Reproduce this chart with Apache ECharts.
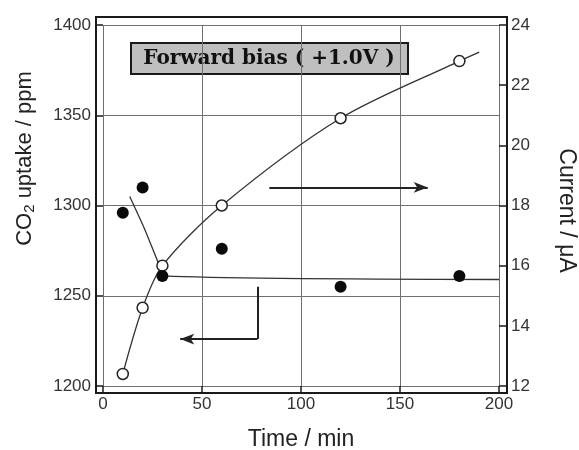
<!DOCTYPE html>
<html>
<head>
<meta charset="utf-8">
<script src="https://cdn.jsdelivr.net/npm/echarts@6/dist/echarts.min.js"></script>
<style>
  html, body { margin: 0; padding: 0; background: #fff; }
  #chart { width: 579px; height: 450px; }
</style>
</head>
<body>
<div id="chart"></div>
<script>
// measured points (time in min)
var uptakeTime = [10, 20, 30, 60, 120, 180]
var uptakeValues = [1296, 1310, 1261, 1276, 1255, 1261]
var currentTime = [10, 20, 30, 60, 120, 180]
var currentValues = [12.4, 14.6, 16.0, 18.0, 20.9, 22.8]

// hand drawn guide lines
var uptakeFitTime = [13.5, 21, 28, 31, 200]
var uptakeFitValues = [1305, 1287, 1268, 1261, 1259]
var currentFitTime = [10, 20, 30, 60, 120, 180, 190]
var currentFitValues = [12.4, 14.6, 16.0, 18.0, 20.9, 22.8, 23.1]

// arrows: [x, y] in data units of the left axis
var rightArrow = [[84, 1310], [164, 1310]]
var leftArrowStem = [[78, 1255], [78, 1226]]
var leftArrow = [[78, 1226], [39, 1226]]

var xTicks = [0, 50, 100, 150, 200]
var titleText = 'Forward bias ( +1.0V )'

function pairs(xs, ys) {
  return xs.map(function (x, i) { return [x, ys[i]] })
}

var ink = '#1a1a1a'
var sans = 'Liberation Sans, Arial, sans-serif'
var plain = function (v) { return String(v) }

var chart = echarts.init(document.getElementById('chart'))

chart.setOption({
  animation: false,
  backgroundColor: '#fff',
  grid: [
    { left: 103, right: 80, top: 25, bottom: 64, outerBoundsMode: 'none', containLabel: false },
    { left: 96, right: 72, top: 17, bottom: 57, outerBoundsMode: 'none', containLabel: false, show: true, borderColor: ink, borderWidth: 2, backgroundColor: 'transparent', z: 5 }
  ],
  graphic: [{
    type: 'group',
    left: 130,
    top: 42,
    z: 100,
    children: [
      { type: 'rect', shape: { x: 0, y: 0, width: 277, height: 31 }, style: { fill: '#bfbfbf', stroke: ink, lineWidth: 2 } },
      { type: 'text', x: 138, y: 16, style: { text: titleText, align: 'center', verticalAlign: 'middle', fill: '#111', font: 'bold 20px "DejaVu Serif", serif' } }
    ]
  }],
  xAxis: [{
    type: 'value',
    min: 0,
    max: xTicks[xTicks.length - 1],
    interval: 50,
    name: 'Time / min',
    nameLocation: 'middle',
    nameGap: 42,
    nameTextStyle: { fontFamily: sans, fontSize: 23, color: '#222' },
    axisLine: { show: false },
    axisTick: { show: true, inside: false, length: 7, lineStyle: { color: ink, width: 1.5 } },
    axisLabel: { margin: 10, fontFamily: sans, fontSize: 17, color: '#333', formatter: plain },
    splitLine: { show: true, lineStyle: { color: '#707070', width: 1 } }
  }, {
    type: 'value', gridIndex: 1, min: 0, max: 1, show: false
  }],
  yAxis: [{
    type: 'value',
    min: 1200,
    max: 1400,
    interval: 50,
    position: 'left',
    name: '{a|CO}{s|2}{a| uptake / ppm}',
    nameLocation: 'middle',
    nameGap: 66,
    nameTextStyle: {
      padding: [0, 0, 0, 94],
      rich: {
        a: { fontFamily: sans, fontSize: 22, color: '#222' },
        s: { fontFamily: sans, fontSize: 15, color: '#222', padding: [10, 0, 0, 0] }
      }
    },
    axisLine: { show: false },
    axisTick: { show: true, inside: false, length: 7, lineStyle: { color: ink, width: 1.5 } },
    axisLabel: { margin: 12, fontFamily: sans, fontSize: 17, color: '#333', formatter: plain },
    splitLine: { show: true, lineStyle: { color: '#707070', width: 1 } }
  }, {
    type: 'value',
    min: 12,
    max: 24,
    interval: 2,
    position: 'right',
    name: 'Current / \u03bcA',
    nameLocation: 'middle',
    nameRotate: -90,
    nameGap: 56,
    nameTextStyle: { fontFamily: sans, fontSize: 23, color: '#222', padding: [0, 0, 0, 10] },
    axisLine: { show: false },
    axisTick: { show: true, inside: false, length: 8, lineStyle: { color: ink, width: 1.5 } },
    axisLabel: { margin: 12, fontFamily: sans, fontSize: 17, color: '#333', formatter: plain },
    splitLine: { show: false }
  }, {
    type: 'value', gridIndex: 1, min: 0, max: 1, show: false
  }],
  series: [
    {
      name: 'uptake fit',
      type: 'line',
      xAxisIndex: 0,
      yAxisIndex: 0,
      data: pairs(uptakeFitTime, uptakeFitValues),
      smooth: 0.2,
      showSymbol: false,
      lineStyle: { color: '#333', width: 1.3 },
      z: 3,
      markLine: {
        silent: true,
        symbol: ['none', 'arrow'],
        symbolSize: [8, 14],
        label: { show: false },
        lineStyle: { type: 'solid', color: '#222', width: 2 },
        data: [
          [{ coord: rightArrow[0] }, { coord: rightArrow[1] }],
          [{ coord: leftArrowStem[0], symbol: 'none' }, { coord: leftArrowStem[1], symbol: 'none' }],
          [{ coord: leftArrow[0] }, { coord: leftArrow[1] }]
        ]
      }
    },
    {
      name: 'current fit',
      type: 'line',
      xAxisIndex: 0,
      yAxisIndex: 1,
      data: pairs(currentFitTime, currentFitValues),
      smooth: 0.3,
      showSymbol: false,
      lineStyle: { color: '#333', width: 1.3 },
      z: 3
    },
    {
      name: 'CO2 uptake',
      type: 'scatter',
      xAxisIndex: 0,
      yAxisIndex: 0,
      data: pairs(uptakeTime, uptakeValues),
      symbol: 'circle',
      symbolSize: 12,
      itemStyle: { color: '#0a0a0a', opacity: 1 },
      z: 6
    },
    {
      name: 'Current',
      type: 'scatter',
      xAxisIndex: 0,
      yAxisIndex: 1,
      data: pairs(currentTime, currentValues),
      symbol: 'circle',
      symbolSize: 11,
      itemStyle: { color: '#fff', borderColor: '#222', borderWidth: 1.5, opacity: 1 },
      z: 5
    }
  ]
})
</script>
</body>
</html>
